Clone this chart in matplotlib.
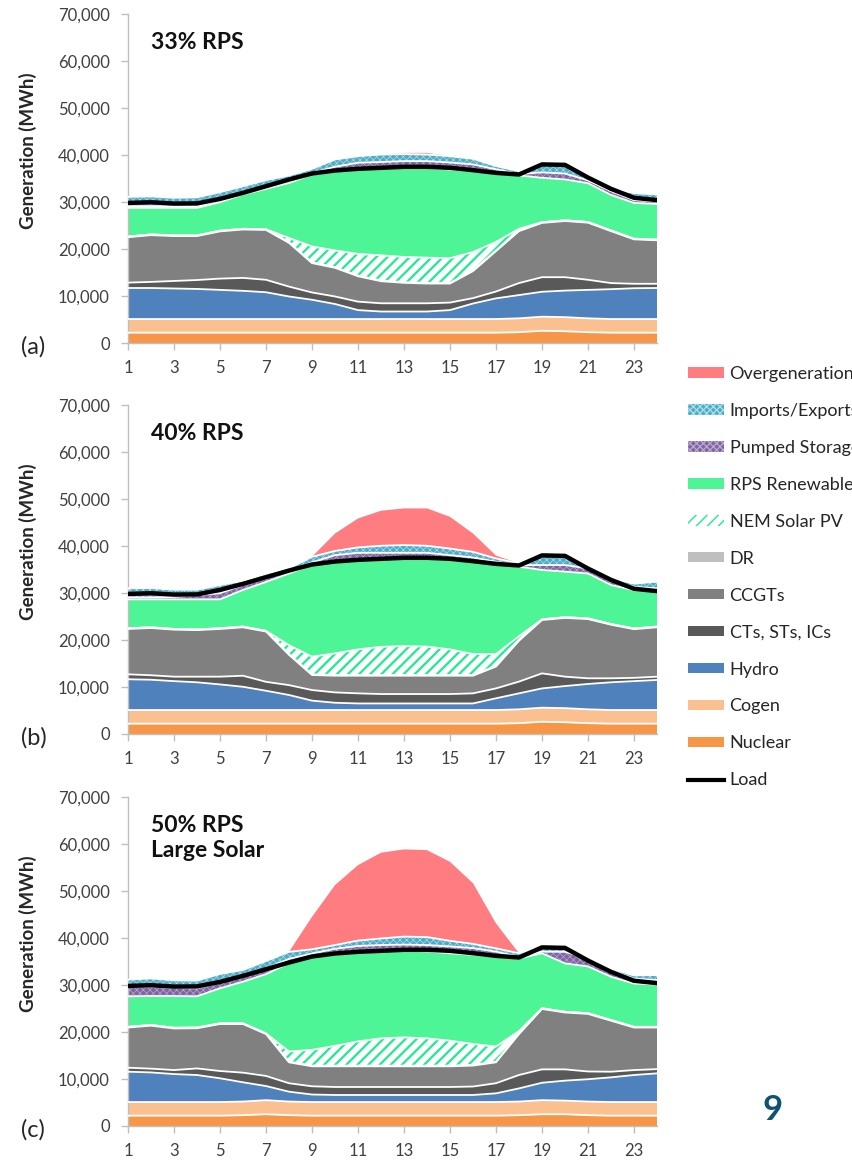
#!/usr/bin/env python3
"""
Hourly dispatch stacks for a spring day under three RPS scenarios.
"""
import numpy as np
import matplotlib
matplotlib.use('Agg')
import matplotlib.pyplot as plt
from matplotlib.patches import Patch
from matplotlib.lines import Line2D
from matplotlib.ticker import FuncFormatter

plt.rcParams['font.family'] = ['Lato', 'DejaVu Sans']

hours = list(range(1, 25))

# system load, MWh (same day in all three cases)
load = [29800, 29950, 29660, 29700, 30660, 31940, 33360, 34780, 36060, 36700, 37060, 37270,
        37490, 37490, 37270, 36770, 36200, 35850, 38000, 37900, 35200, 32800, 30900, 30400]

dr = [150] * 24

# --- 33% RPS ---
nuclear_a = [2200, 2200, 2200, 2200, 2200, 2200, 2200, 2200, 2200, 2200, 2200, 2200,
             2200, 2200, 2200, 2200, 2200, 2300, 2600, 2500, 2300, 2200, 2200, 2200]
cogen_a = [2900, 2900, 2900, 2900, 2900, 2900, 2900, 2900, 2900, 2900, 2900, 2900,
           2900, 2900, 2900, 2900, 2900, 2950, 3000, 3000, 2950, 2900, 2900, 2900]
hydro_a = [6600, 6600, 6500, 6400, 6200, 6000, 5700, 4800, 4100, 3200, 1900, 1600,
           1600, 1600, 1900, 3300, 4400, 4950, 5300, 5650, 6050, 6350, 6550, 6600]
ct_a = [1150, 1300, 1600, 1900, 2400, 2750, 2650, 2100, 1550, 1600, 1800, 1750,
        1750, 1750, 1600, 1150, 1450, 2550, 3100, 2850, 2150, 1300, 950, 900]
ccgt_a = [9650, 9950, 9550, 9350, 10050, 10300, 10600, 9300, 6250, 6100, 5400, 4700,
          4350, 4200, 4050, 5750, 8600, 11050, 11550, 11950, 12150, 11050, 9450, 9250]
nem_a = [0, 0, 0, 0, 0, 0, 0, 900, 3400, 3550, 4600, 5350,
         5350, 5350, 5250, 3900, 1800, 350, 0, 0, 0, 0, 0, 0]
rps_a = [6100, 5650, 5850, 5850, 6050, 7300, 8600, 11700, 15300, 16850, 17950, 18500,
         18950, 19100, 18850, 17200, 14550, 11350, 9450, 8700, 8250, 7550, 7600, 7600]
pumped_a = [350, 350, 350, 350, 350, 300, 300, 350, 350, 950, 1450, 1350,
            1450, 1450, 1500, 1450, 900, 300, 1150, 1250, 600, 800, 600, 500]
imports_a = [2000, 2100, 1800, 1900, 1800, 1450, 1550, 1250, 850, 1550, 1400, 1600,
             1500, 1400, 1350, 1200, 700, 600, 1600, 1850, 700, 600, 1500, 1500]
overgen_a = [0, 0, 0, 0, 0, 0, 0, 0, 0, 0, 0, 0,
             250, 350, 0, 0, 0, 0, 0, 0, 0, 0, 0, 0]

# --- 40% RPS ---
nuclear_b = nuclear_a
cogen_b = cogen_a
hydro_b = [6550, 6450, 6150, 5900, 5450, 4950, 4100, 3200, 2000, 1550, 1400, 1400,
           1400, 1400, 1400, 1400, 2500, 3400, 4100, 4700, 5400, 5900, 6150, 6400]
ct_b = [1050, 950, 950, 1200, 1650, 2350, 1900, 2100, 2250, 2200, 2150, 2000,
        2000, 2000, 2000, 2150, 2100, 2500, 3200, 2000, 1200, 850, 700, 700]
ccgt_b = [9650, 10050, 10000, 9900, 10150, 10300, 10700, 6450, 3200, 3550, 3750, 3900,
          3900, 3900, 3900, 3750, 4650, 8700, 11350, 12500, 12600, 11400, 10350, 10500]
nem_b = [0, 0, 0, 0, 0, 0, 0, 1900, 3750, 4600, 5450, 6000,
         6150, 6050, 5450, 4450, 2500, 800, 0, 0, 0, 0, 0, 0]
rps_b = [6150, 5950, 6300, 6400, 6150, 7800, 10400, 15250, 19550, 19700, 19150, 18800,
         18800, 18750, 19000, 19650, 19150, 14800, 10500, 9700, 9550, 8300, 8150, 7550]
pumped_b = [400, 400, 500, 900, 1300, 1050, 700, 650, 500, 1200, 1400, 1200,
            1050, 1200, 1050, 900, 500, 300, 1050, 1400, 1050, 1050, 700, 600]
imports_b = [1950, 2000, 1550, 1150, 1750, 900, 1050, 450, 1200, 900, 1150, 1500,
             1650, 1500, 1400, 1200, 700, 400, 1900, 1900, 350, 350, 700, 1400]
overgen_b = [0, 0, 0, 0, 0, 0, 0, 0, 0, 3700, 6150, 7450,
             7800, 7950, 6750, 3900, 600, 0, 0, 0, 0, 0, 0, 0]

# --- 50% RPS, large solar ---
nuclear_c = [2200, 2200, 2200, 2200, 2200, 2300, 2500, 2300, 2200, 2200, 2200, 2200,
             2200, 2200, 2200, 2200, 2200, 2300, 2500, 2500, 2300, 2200, 2200, 2200]
cogen_c = [2900, 2900, 2900, 2900, 2900, 2900, 3000, 2900, 2900, 2900, 2900, 2900,
           2900, 2900, 2900, 2900, 2900, 2900, 3000, 2900, 2900, 2900, 2900, 2900]
hydro_c = [6450, 6300, 5950, 5750, 5050, 4100, 3000, 2100, 1600, 1500, 1500, 1500,
           1500, 1500, 1500, 1500, 1850, 2800, 3700, 4250, 4750, 5250, 5750, 6100]
ct_c = [850, 800, 850, 1400, 1550, 2050, 2150, 1800, 1750, 1700, 1700, 1700,
        1700, 1700, 1700, 1800, 2150, 2850, 2850, 2400, 1650, 1200, 1050, 900]
ccgt_c = [8550, 9150, 8850, 8550, 10000, 10350, 8900, 4450, 4250, 4400, 4400, 4400,
          4400, 4400, 4400, 4450, 4450, 8700, 12850, 12100, 12250, 10850, 9050, 8850]
nem_c = [0, 0, 0, 0, 0, 0, 0, 2150, 3350, 4200, 5150, 5800,
         6000, 5800, 5300, 4450, 3200, 500, 0, 0, 0, 0, 0, 0]
rps_c = [6500, 6150, 6750, 6650, 7450, 8850, 12600, 18800, 19800, 19400, 18850, 18500,
         18450, 18500, 18600, 18950, 19150, 15450, 11700, 10300, 9950, 9200, 9200, 9000]
pumped_c = [2000, 2000, 1700, 1700, 1200, 1000, 1250, 900, 700, 1250, 1450, 1350,
            1300, 1350, 1450, 1450, 1050, 350, 350, 2450, 1750, 1400, 1050, 950]
imports_c = [1550, 1750, 1650, 1650, 1850, 1500, 1550, 1500, 900, 800, 1150, 1400,
             1700, 1700, 1200, 900, 700, 750, 1050, 1050, 150, 350, 700, 1050]
overgen_c = [0, 0, 0, 0, 0, 0, 0, 0, 6900, 12750, 16050, 18250,
             18550, 18500, 16800, 12900, 5300, 0, 0, 0, 0, 0, 0, 0]

# stacking order, bottom to top: label, face, hatch, hatch colour
LAYERS = [
    ('Nuclear', '#F79646', None, None),
    ('Cogen', '#FAC090', None, None),
    ('Hydro', '#4F81BD', None, None),
    ('CTs, STs, ICs', '#595959', None, None),
    ('CCGTs', '#808080', None, None),
    ('DR', '#BFBFBF', None, None),
    ('NEM Solar PV', 'white', '///', '#1DEB8E'),
    ('RPS Renewables', '#4EF597', None, None),
    ('Pumped Storage', '#8064A2', 'xxxxx', '#B7A6CF'),
    ('Imports/Exports', '#4BACC6', 'xxxxx', '#A9DCEA'),
    ('Overgeneration', '#FF7C80', None, None),
]
HATCH_LW = {'///': 1.6, 'xxxxx': 0.5}

panels = [
    ('33% RPS', '(a)', [nuclear_a, cogen_a, hydro_a, ct_a, ccgt_a, dr, nem_a, rps_a,
                        pumped_a, imports_a, overgen_a]),
    ('40% RPS', '(b)', [nuclear_b, cogen_b, hydro_b, ct_b, ccgt_b, dr, nem_b, rps_b,
                        pumped_b, imports_b, overgen_b]),
    ('50% RPS\nLarge Solar', '(c)', [nuclear_c, cogen_c, hydro_c, ct_c, ccgt_c, dr, nem_c, rps_c,
                                     pumped_c, imports_c, overgen_c]),
]

W, H = 852, 1161
AX_LEFT, AX_RIGHT = 128, 657
AX_BOTTOMS = [343, 734, 1126]
AX_H = 329
GREY_TXT = '#404040'
SPINE = '#BFBFBF'


def draw_panel(ax, title, series):
    x = np.array(hours)
    tops = np.cumsum(np.array(series, dtype=float), axis=0)
    lower = np.zeros(len(hours))
    for (label, face, hatch, hcol), top in zip(LAYERS, tops):
        if hatch:
            with plt.rc_context({'hatch.linewidth': HATCH_LW[hatch]}):
                pc = ax.fill_between(x, lower, top, facecolor=face, edgecolor=hcol,
                                     hatch=hatch, linewidth=0, zorder=2)
            if hasattr(pc, 'set_hatch_linewidth'):
                pc.set_hatch_linewidth(HATCH_LW[hatch])
        else:
            ax.fill_between(x, lower, top, facecolor=face, edgecolor='none',
                            linewidth=0, zorder=2)
        lower = top
    # thin white borders between the stacked areas
    for top in tops[:-1]:
        ax.plot(x, top, color='white', lw=1.3, zorder=3)
    ax.plot(x, load, color='black', lw=3.2, zorder=4, solid_joinstyle='round')

    ax.set_xlim(1, 24)
    ax.set_ylim(0, 70000)
    ax.set_xticks(range(1, 24, 2))
    ax.set_yticks(range(0, 70001, 10000))
    ax.yaxis.set_major_formatter(FuncFormatter(lambda v, p: f'{int(v):,}'))
    for s in ('top', 'right'):
        ax.spines[s].set_visible(False)
    for s in ('left', 'bottom'):
        ax.spines[s].set_color(SPINE)
        ax.spines[s].set_linewidth(1.0)
    ax.tick_params(axis='both', colors=SPINE, labelcolor=GREY_TXT, labelsize=12,
                   length=5, width=1.0, direction='out')
    ax.tick_params(axis='y', pad=8)
    ax.tick_params(axis='x', pad=7)
    ax.set_ylabel('Generation (MWh)', fontsize=13.5, fontweight='bold', color='#262626')
    ax.yaxis.set_label_coords(-0.172, 0.585)
    ax.text(0.044, 0.945, title, transform=ax.transAxes, fontsize=16.5, fontweight='bold',
            va='top', ha='left', linespacing=1.25, color='#111111')


def main():
    fig = plt.figure(figsize=(W / 100, H / 100), dpi=100)
    for (title, tag, series), bottom in zip(panels, AX_BOTTOMS):
        ax = fig.add_axes([AX_LEFT / W, (H - bottom) / H, (AX_RIGHT - AX_LEFT) / W, AX_H / H])
        draw_panel(ax, title, series)
        fig.text(21 / W, 1 - (bottom + 4) / H, tag, fontsize=17, color='#262626',
                 ha='left', va='center')

    handles, labels = [], []
    for label, face, hatch, hcol in reversed(LAYERS):
        if hatch:
            handles.append(Patch(facecolor=face, edgecolor=hcol, hatch=hatch, linewidth=0))
        else:
            handles.append(Patch(facecolor=face, edgecolor='none', linewidth=0))
        labels.append(label)
    handles.append(Line2D([], [], color='black', lw=3))
    labels.append('Load')
    fig.legend(handles, labels, loc='upper left', bbox_to_anchor=(688 / W, 1 - 366 / H),
               frameon=False, fontsize=13, handlelength=2.0, handleheight=0.5,
               handletextpad=0.3, labelspacing=1.16, borderaxespad=0, borderpad=0,
               labelcolor='#262626')

    fig.text(773 / W, 1 - 1110 / H, '9', fontsize=25, fontweight='bold', color='#0E5470',
             ha='center', va='center')
    fig.savefig('out.png', dpi=100)
    plt.close(fig)


if __name__ == '__main__':
    main()
